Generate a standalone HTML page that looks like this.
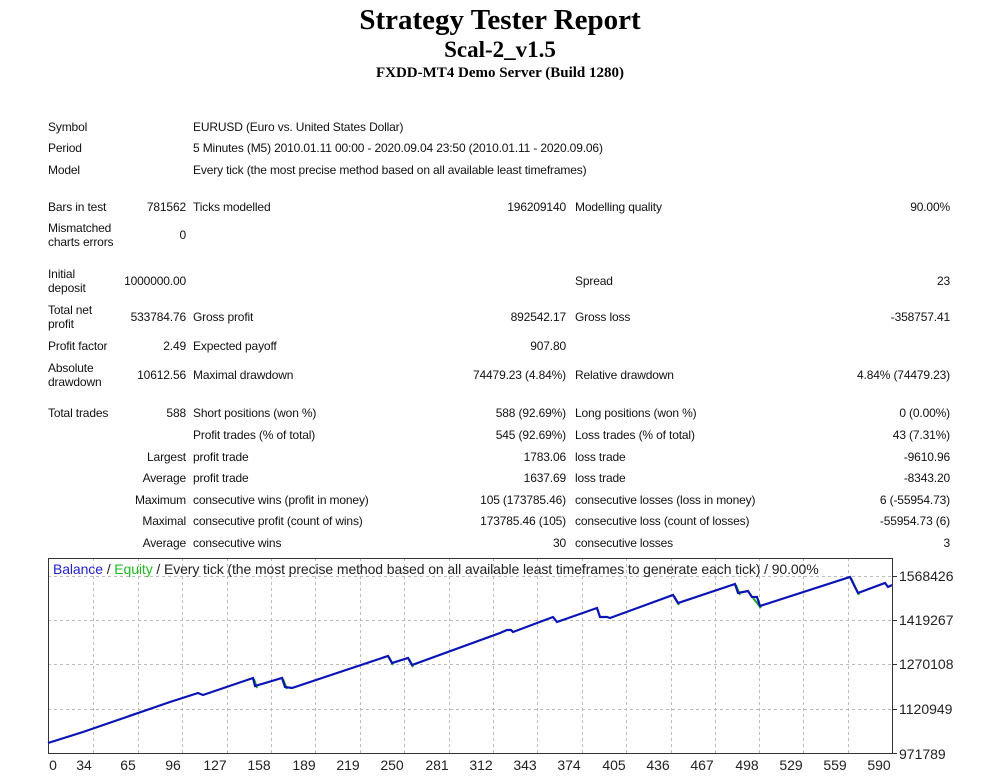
<!DOCTYPE html>
<html><head><meta charset="utf-8"><style>
body{margin:0;width:1000px;height:780px;background:#fff;position:relative;overflow:hidden;font-family:"Liberation Sans",sans-serif;color:#111}
.t{position:absolute;font-size:12px;line-height:14px;white-space:nowrap;letter-spacing:-0.15px}
.r{text-align:right}
.h{position:absolute;left:0;width:1000px;text-align:center;font-family:"Liberation Serif",serif;font-weight:bold;color:#000}
</style></head><body>
<div class="h" style="top:3px;font-size:29px;line-height:34px">Strategy Tester Report</div>
<div class="h" style="top:36px;font-size:23px;line-height:28px">Scal-2_v1.5</div>
<div class="h" style="top:64px;font-size:15px;line-height:18px">FXDD-MT4 Demo Server (Build 1280)</div>

<div class="t" style="left:48px;top:120px">Symbol</div>
<div class="t" style="left:193px;top:120px">EURUSD (Euro vs. United States Dollar)</div>
<div class="t" style="left:48px;top:141px">Period</div>
<div class="t" style="left:193px;top:141px">5 Minutes (M5) 2010.01.11 00:00 - 2020.09.04 23:50 (2010.01.11 - 2020.09.06)</div>
<div class="t" style="left:48px;top:163px">Model</div>
<div class="t" style="left:193px;top:163px">Every tick (the most precise method based on all available least timeframes)</div>

<div class="t" style="left:48px;top:200px">Bars in test</div>
<div class="t r" style="right:814px;top:200px">781562</div>
<div class="t" style="left:193px;top:200px">Ticks modelled</div>
<div class="t r" style="right:434px;top:200px">196209140</div>
<div class="t" style="left:575px;top:200px">Modelling quality</div>
<div class="t r" style="right:50px;top:200px">90.00%</div>

<div class="t" style="left:48px;top:221px">Mismatched<br>charts errors</div>
<div class="t r" style="right:814px;top:228px">0</div>

<div class="t" style="left:48px;top:267px">Initial<br>deposit</div>
<div class="t r" style="right:814px;top:274px">1000000.00</div>
<div class="t" style="left:575px;top:274px">Spread</div>
<div class="t r" style="right:50px;top:274px">23</div>

<div class="t" style="left:48px;top:303px">Total net<br>profit</div>
<div class="t r" style="right:814px;top:310px">533784.76</div>
<div class="t" style="left:193px;top:310px">Gross profit</div>
<div class="t r" style="right:434px;top:310px">892542.17</div>
<div class="t" style="left:575px;top:310px">Gross loss</div>
<div class="t r" style="right:50px;top:310px">-358757.41</div>

<div class="t" style="left:48px;top:339px">Profit factor</div>
<div class="t r" style="right:814px;top:339px">2.49</div>
<div class="t" style="left:193px;top:339px">Expected payoff</div>
<div class="t r" style="right:434px;top:339px">907.80</div>

<div class="t" style="left:48px;top:361px">Absolute<br>drawdown</div>
<div class="t r" style="right:814px;top:368px">10612.56</div>
<div class="t" style="left:193px;top:368px">Maximal drawdown</div>
<div class="t r" style="right:434px;top:368px">74479.23 (4.84%)</div>
<div class="t" style="left:575px;top:368px">Relative drawdown</div>
<div class="t r" style="right:50px;top:368px">4.84% (74479.23)</div>

<div class="t" style="left:48px;top:406px">Total trades</div>
<div class="t r" style="right:814px;top:406px">588</div>
<div class="t" style="left:193px;top:406px">Short positions (won %)</div>
<div class="t r" style="right:434px;top:406px">588 (92.69%)</div>
<div class="t" style="left:575px;top:406px">Long positions (won %)</div>
<div class="t r" style="right:50px;top:406px">0 (0.00%)</div>

<div class="t" style="left:193px;top:428px">Profit trades (% of total)</div>
<div class="t r" style="right:434px;top:428px">545 (92.69%)</div>
<div class="t" style="left:575px;top:428px">Loss trades (% of total)</div>
<div class="t r" style="right:50px;top:428px">43 (7.31%)</div>

<div class="t r" style="right:814px;top:450px">Largest</div>
<div class="t" style="left:193px;top:450px">profit trade</div>
<div class="t r" style="right:434px;top:450px">1783.06</div>
<div class="t" style="left:575px;top:450px">loss trade</div>
<div class="t r" style="right:50px;top:450px">-9610.96</div>

<div class="t r" style="right:814px;top:471px">Average</div>
<div class="t" style="left:193px;top:471px">profit trade</div>
<div class="t r" style="right:434px;top:471px">1637.69</div>
<div class="t" style="left:575px;top:471px">loss trade</div>
<div class="t r" style="right:50px;top:471px">-8343.20</div>

<div class="t r" style="right:814px;top:493px">Maximum</div>
<div class="t" style="left:193px;top:493px">consecutive wins (profit in money)</div>
<div class="t r" style="right:434px;top:493px">105 (173785.46)</div>
<div class="t" style="left:575px;top:493px">consecutive losses (loss in money)</div>
<div class="t r" style="right:50px;top:493px">6 (-55954.73)</div>

<div class="t r" style="right:814px;top:514px">Maximal</div>
<div class="t" style="left:193px;top:514px">consecutive profit (count of wins)</div>
<div class="t r" style="right:434px;top:514px">173785.46 (105)</div>
<div class="t" style="left:575px;top:514px">consecutive loss (count of losses)</div>
<div class="t r" style="right:50px;top:514px">-55954.73 (6)</div>

<div class="t r" style="right:814px;top:536px">Average</div>
<div class="t" style="left:193px;top:536px">consecutive wins</div>
<div class="t r" style="right:434px;top:536px">30</div>
<div class="t" style="left:575px;top:536px">consecutive losses</div>
<div class="t r" style="right:50px;top:536px">3</div>

<svg style="position:absolute;left:0;top:0" width="1000" height="780">
<g stroke="#bbb" stroke-dasharray="3,3" stroke-width="1">
<line x1="48" y1="576.5" x2="893" y2="576.5"/><line x1="48" y1="620.5" x2="893" y2="620.5"/>
<line x1="48" y1="664.5" x2="893" y2="664.5"/><line x1="48" y1="709.5" x2="893" y2="709.5"/>
<line x1="93.5" y1="558" x2="93.5" y2="753"/><line x1="138.5" y1="558" x2="138.5" y2="753"/>
<line x1="182.5" y1="558" x2="182.5" y2="753"/><line x1="227.5" y1="558" x2="227.5" y2="753"/>
<line x1="271.5" y1="558" x2="271.5" y2="753"/><line x1="315.5" y1="558" x2="315.5" y2="753"/>
<line x1="360.5" y1="558" x2="360.5" y2="753"/><line x1="404.5" y1="558" x2="404.5" y2="753"/>
<line x1="449.5" y1="558" x2="449.5" y2="753"/><line x1="493.5" y1="558" x2="493.5" y2="753"/>
<line x1="537.5" y1="558" x2="537.5" y2="753"/><line x1="582.5" y1="558" x2="582.5" y2="753"/>
<line x1="626.5" y1="558" x2="626.5" y2="753"/><line x1="671.5" y1="558" x2="671.5" y2="753"/>
<line x1="715.5" y1="558" x2="715.5" y2="753"/><line x1="759.5" y1="558" x2="759.5" y2="753"/>
<line x1="803.5" y1="558" x2="803.5" y2="753"/><line x1="848.5" y1="558" x2="848.5" y2="753"/>
</g>
<rect x="48.5" y="558.5" width="844" height="195" fill="none" stroke="#333" stroke-width="1"/>
<g stroke="#333"><line x1="893" y1="576.5" x2="897" y2="576.5"/><line x1="893" y1="620.5" x2="897" y2="620.5"/><line x1="893" y1="664.5" x2="897" y2="664.5"/><line x1="893" y1="709.5" x2="897" y2="709.5"/><line x1="893" y1="753.5" x2="897" y2="753.5"/></g>
<g fill="none" stroke="#22aa22" stroke-width="2">
<path d="M254,679 L257,688"/><path d="M283,679 L287,689"/><path d="M389,657 L393,665"/><path d="M409,659 L413,667"/><path d="M674,596 L679,605"/><path d="M736,585 L740,595"/><path d="M753,598 L761,608"/><path d="M851,578 L859,595"/>
</g>
<polyline fill="none" stroke="#0a14b4" stroke-width="2.2" points="48,743 83,732 170,702 198,693 203,695 253,678 255,686 282,678 285,687 292,688 388,656 392,663 408,658 412,665 500,633 507,630 511,630 513,632 553,617 557,622 597,608 600,617 607,617 610,618 673,595 678,603 735,584 738,593 748,591 752,597 757,597 760,606 850,577 858,593 885,583 888,587 892,585"/>
<g font-family="Liberation Sans, sans-serif" font-size="13" fill="#222">
<text x="53" y="574" font-size="14" letter-spacing="-0.1"><tspan fill="#2222cc">Balance</tspan> / <tspan fill="#22bb22">Equity</tspan> / Every tick (the most precise method based on all available least timeframes to generate each tick) / 90.00%</text>
<g text-anchor="start" font-size="14"><text x="899" y="581">1568426</text><text x="899" y="625">1419267</text><text x="899" y="669">1270108</text><text x="899" y="714">1120949</text><text x="899" y="759">971789</text></g>
<g text-anchor="middle" font-size="14"><text x="53" y="770">0</text><text x="84" y="770">34</text><text x="128" y="770">65</text><text x="173" y="770">96</text><text x="215" y="770">127</text><text x="259" y="770">158</text><text x="304" y="770">189</text><text x="348" y="770">219</text><text x="392" y="770">250</text><text x="437" y="770">281</text><text x="481" y="770">312</text><text x="525" y="770">343</text><text x="569" y="770">374</text><text x="614" y="770">405</text><text x="658" y="770">436</text><text x="702" y="770">467</text><text x="747" y="770">498</text><text x="791" y="770">529</text><text x="835" y="770">559</text><text x="879" y="770">590</text></g>
</g>
</svg>
</body></html>
